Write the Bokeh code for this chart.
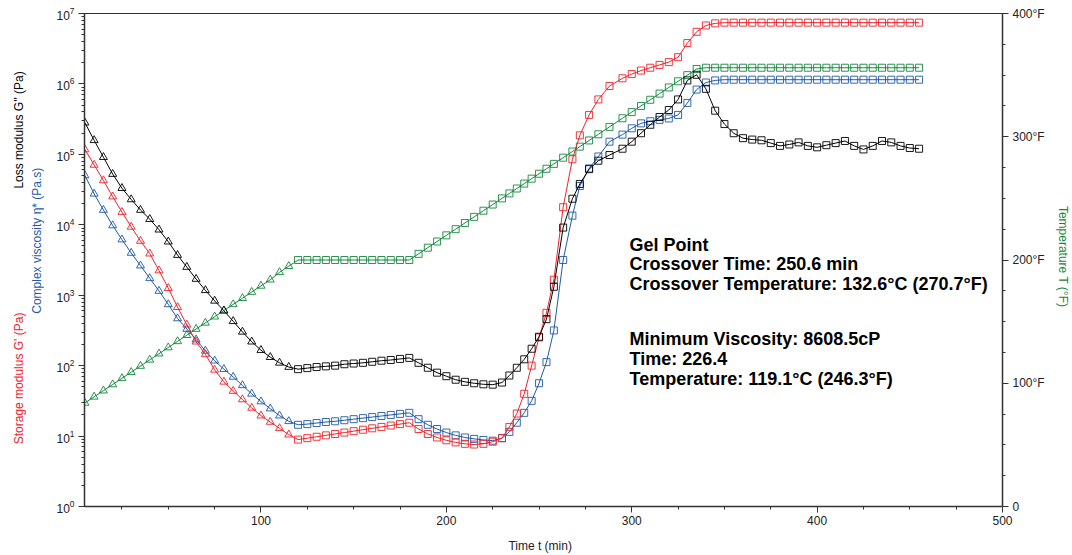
import math
from bokeh.plotting import figure
from bokeh.layouts import row
from bokeh.models import Range1d, LinearAxis, LinearScale, FixedTicker, Label, ColumnDataSource
from bokeh.embed import file_html
from bokeh.resources import INLINE

# ---------------- data ----------------
time_min = [5, 10, 15, 20, 25, 30, 35, 40, 45, 50, 55, 60, 65, 70, 75, 80, 85, 90, 95, 100,
            105, 110, 115, 120, 125, 130, 135, 140, 145, 150, 155, 160, 165, 170, 175, 180,
            185, 190, 195, 200, 205, 210, 215, 220, 225, 230,
            234, 238, 242, 246, 250, 254, 258, 263, 268, 272, 277, 282, 288, 295,
            300, 305, 310, 315, 320, 325, 330, 335, 340, 345, 350, 355, 360, 365, 370, 375,
            380, 385, 390, 395, 400, 405, 410, 415, 420, 425, 430, 435, 440, 445, 450, 455]

# log10 of Loss modulus G'' (Pa)
loss_log10 = [5.45, 5.20, 4.96, 4.72, 4.52, 4.36, 4.21, 4.08, 3.93, 3.76, 3.57, 3.40, 3.23, 3.07,
              2.92, 2.78, 2.63, 2.48, 2.34, 2.22, 2.12, 2.04, 1.98, 1.95,
              1.965, 1.98, 1.99, 2.00, 2.02, 2.03, 2.04, 2.055, 2.07, 2.08, 2.095, 2.11,
              2.04, 1.97, 1.90, 1.85, 1.80, 1.77, 1.75, 1.735, 1.73, 1.76,
              1.86, 1.97, 2.09, 2.24, 2.41, 2.66, 3.12, 3.96, 4.37, 4.58, 4.79, 4.91, 4.99, 5.08,
              5.18, 5.30, 5.42, 5.53, 5.63, 5.78, 6.05, 6.13, 5.93, 5.62,
              5.43, 5.30, 5.23, 5.21, 5.20, 5.16, 5.12, 5.14, 5.17, 5.12,
              5.10, 5.13, 5.16, 5.19, 5.12, 5.07, 5.12, 5.19, 5.17, 5.12,
              5.09, 5.08]

# log10 of Storage modulus G' (Pa)
storage_log10 = [5.07, 4.85, 4.63, 4.40, 4.18, 3.97, 3.77, 3.59, 3.35, 3.10, 2.83, 2.58, 2.34, 2.16,
                 1.94, 1.77, 1.64, 1.52, 1.40, 1.29, 1.20, 1.11, 1.02, 0.95,
                 0.97, 0.99, 1.01, 1.03, 1.05, 1.07, 1.09, 1.11, 1.13, 1.15, 1.17, 1.19,
                 1.10, 1.03, 0.98, 0.94, 0.91, 0.89, 0.88, 0.89, 0.92, 0.97,
                 1.13, 1.32, 1.60, 2.00, 2.40, 2.75, 3.22, 4.25, 4.93, 5.27, 5.56, 5.78, 5.97, 6.08,
                 6.14, 6.19, 6.23, 6.27, 6.31, 6.38, 6.58, 6.74, 6.83, 6.86,
                 6.87, 6.87, 6.87, 6.87, 6.87, 6.87, 6.87, 6.87, 6.87, 6.87,
                 6.87, 6.87, 6.87, 6.87, 6.87, 6.87, 6.87, 6.87, 6.87, 6.87,
                 6.87, 6.87]

# log10 of Complex viscosity eta* (Pa.s)
viscosity_log10 = [4.70, 4.44, 4.21, 3.99, 3.79, 3.60, 3.42, 3.24, 3.06, 2.87, 2.67, 2.52, 2.37, 2.21,
                   2.07, 1.95, 1.84, 1.72, 1.60, 1.49, 1.39, 1.29, 1.21, 1.16,
                   1.17, 1.185, 1.20, 1.21, 1.225, 1.24, 1.255, 1.27, 1.285, 1.30, 1.315, 1.33,
                   1.24, 1.16, 1.10, 1.05, 1.01, 0.98, 0.96, 0.945, 0.935, 0.97,
                   1.06, 1.19, 1.33, 1.50, 1.75, 2.05, 2.50, 3.50, 4.13, 4.55, 4.80, 4.97, 5.18, 5.28,
                   5.37, 5.44, 5.47, 5.49, 5.51, 5.56, 5.73, 5.92, 6.02, 6.05,
                   6.06, 6.06, 6.06, 6.06, 6.06, 6.06, 6.06, 6.06, 6.06, 6.06,
                   6.06, 6.06, 6.06, 6.06, 6.06, 6.06, 6.06, 6.06, 6.06, 6.06,
                   6.06, 6.06]

# Temperature T (deg F)
temperature_F = [84, 89, 94, 99, 104, 109, 114, 119, 124, 129, 134, 139, 144, 149, 154, 159, 164,
                 169, 174, 179, 184, 190, 195, 200,
                 200, 200, 200, 200, 200, 200, 200, 200, 200, 200, 200, 200,
                 205, 210, 215, 220, 225, 230, 235, 240, 245, 250,
                 254, 258, 262, 266, 270, 274, 278, 283, 288, 292, 297, 302, 308, 315,
                 320, 325, 330, 335, 340, 345, 350, 355, 356, 356,
                 356, 356, 356, 356, 356, 356, 356, 356, 356, 356,
                 356, 356, 356, 356, 356, 356, 356, 356, 356, 356,
                 356, 356]

x_ticks = [100, 200, 300, 400, 500]
y_ticks = [1, 10, 100, 1e3, 1e4, 1e5, 1e6, 1e7]
temp_ticks = [0, 100, 200, 300, 400]
temp_tick_labels = ["0", "100°F", "200°F", "300°F", "400°F"]

annotation_lines = ["Gel Point",
                    "Crossover Time: 250.6 min",
                    "Crossover Temperature: 132.6°C (270.7°F)",
                    "Minimum Viscosity: 8608.5cP",
                    "Time: 226.4",
                    "Temperature: 119.1°C (246.3°F)"]

RED = "#ee2229"
BLUE = "#1f5aa8"
GREEN = "#16873e"
BLACK = "#000000"
FONT = "Liberation Sans"
AXIS_C = "#333333"

W_LEFT = 44
H = 555
FRAME_TOP = 13
FRAME_BOTTOM = 507

# ---------------- left strip holding the left-hand axis titles ----------------
# its frame is aligned with the main frame by the row layout; y data = page pixels from bottom
lf = figure(width=W_LEFT, height=H, x_range=Range1d(0, W_LEFT),
            y_range=Range1d(H - FRAME_BOTTOM, H - FRAME_TOP),
            x_axis_location=None, y_axis_location=None, toolbar_location=None,
            output_backend="svg", min_border_left=0, min_border_right=0,
            min_border_top=FRAME_TOP, min_border_bottom=H - FRAME_BOTTOM)
lf.outline_line_color = None
lf.xgrid.visible = False
lf.ygrid.visible = False


def left_title(text, x, y, color):
    lf.add_layout(Label(x=x, y=y, text=text, angle=math.pi / 2, text_align="center",
                        text_baseline="middle", text_font=FONT, text_font_size="12px",
                        text_color=color))


left_title("Storage modulus G'  (Pa)", 18, H - 377, RED)
left_title("Loss modulus G''  (Pa)", 18, H - 128, BLACK)
left_title("Complex viscosity η*  (Pa.s)", 36, H - 239, BLUE)

# ---------------- main figure ----------------
p = figure(width=1072 - W_LEFT, height=H, x_range=Range1d(4.8, 500), y_range=Range1d(1, 1e7),
           y_axis_type="log", output_backend="svg", toolbar_location=None,
           min_border_left=84 - W_LEFT, min_border_right=64, min_border_top=FRAME_TOP,
           min_border_bottom=H - FRAME_BOTTOM)
p.xgrid.visible = False
p.ygrid.visible = False
p.outline_line_color = AXIS_C
p.outline_line_width = 1

p.extra_y_ranges = {"temp": Range1d(0, 400)}
p.extra_y_scales = {"temp": LinearScale()}
raxis = LinearAxis(y_range_name="temp")
p.add_layout(raxis, "right")

p.xaxis.ticker = FixedTicker(ticks=x_ticks, minor_ticks=[v for v in range(25, 500, 25)])
p.yaxis[0].ticker = FixedTicker(ticks=y_ticks,
                                minor_ticks=[m * 10 ** k for k in range(0, 7) for m in range(2, 10)])
raxis.ticker = FixedTicker(ticks=temp_ticks, minor_ticks=[v for v in range(25, 400, 25)])
raxis.major_label_overrides = {t: s for t, s in zip(temp_ticks, temp_tick_labels)}

for ax in [p.xaxis[0], p.yaxis[0], raxis]:
    ax.axis_line_color = AXIS_C
    ax.axis_line_width = 1.5
    ax.major_tick_line_color = AXIS_C
    ax.minor_tick_line_color = AXIS_C
    ax.major_tick_out = 6
    ax.major_tick_in = 0
    ax.minor_tick_out = 3
    ax.minor_tick_in = 0
    ax.major_label_text_font = FONT
    ax.major_label_text_font_size = "12px"
    ax.major_label_text_color = "#222222"
    ax.major_label_standoff = 4
    ax.axis_label_text_font = FONT
    ax.axis_label_text_font_size = "12px"
    ax.axis_label_text_font_style = "normal"

p.xaxis.major_label_standoff = 3
p.xaxis.axis_label = "Time  t  (min)"
p.xaxis.axis_label_text_color = "#222222"
p.xaxis.axis_label_standoff = 11

raxis.axis_label = "Temperature  T  (°F)"
raxis.axis_label_text_color = GREEN
raxis.axis_label_standoff = 8

# ---------------- series ----------------
series = [
    ("temp", temperature_F, GREEN, False),
    ("default", viscosity_log10, BLUE, True),
    ("default", storage_log10, RED, True),
    ("default", loss_log10, BLACK, True),
]
for rng, vals, col, is_log in series:
    yv = [10 ** v for v in vals] if is_log else list(vals)
    p.line(time_min, yv, line_color=col, line_width=1, y_range_name=rng)
    tri = ColumnDataSource(dict(x=[t for t in time_min if t < 120],
                                y=[y for t, y in zip(time_min, yv) if t < 120]))
    sq = ColumnDataSource(dict(x=[t for t in time_min if t >= 120],
                               y=[y for t, y in zip(time_min, yv) if t >= 120]))
    p.scatter("x", "y", source=tri, marker="triangle", size=8, fill_color=None,
              line_color=col, line_width=1, line_alpha=0.9, y_range_name=rng)
    p.scatter("x", "y", source=sq, marker="square", size=7, fill_color=None,
              line_color=col, line_width=1, line_alpha=0.9, y_range_name=rng)

# ---------------- annotation ----------------
ann_y = [262, 243, 223, 168, 148, 128]
for txt, yy in zip(annotation_lines, ann_y):
    p.add_layout(Label(x=545, y=yy, x_units="screen", y_units="screen", text=txt,
                       text_align="left", text_baseline="middle", text_font=FONT,
                       text_font_style="bold", text_font_size="18px", text_color="#000000"))

layout = row(lf, p)
open("out.html", "w").write(file_html(layout, INLINE))
